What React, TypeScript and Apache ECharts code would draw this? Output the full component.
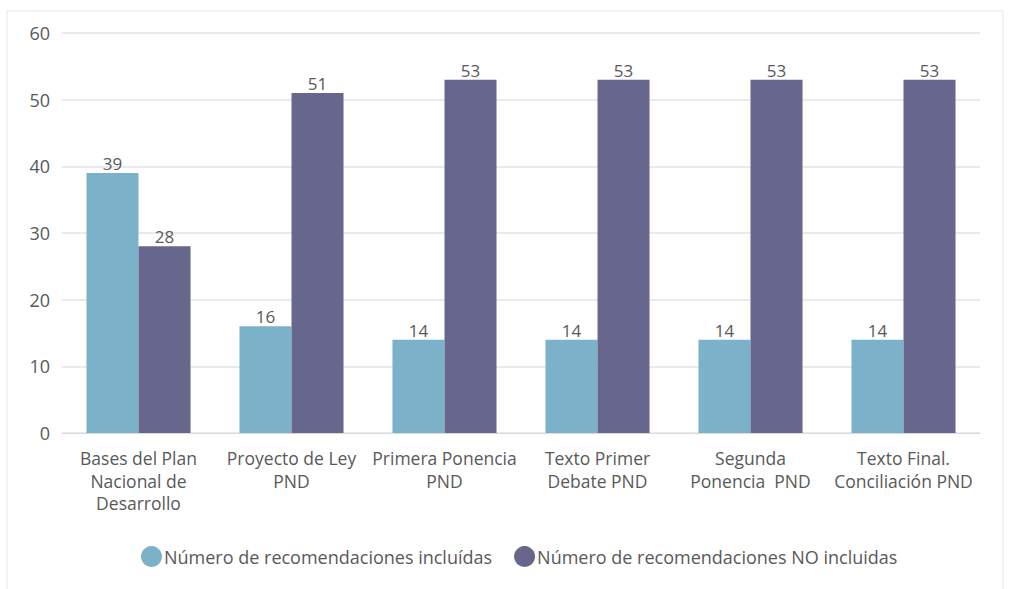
import React, { useEffect, useRef } from "react";
import * as echarts from "echarts";

const categories = [
  "Bases del Plan\nNacional de\nDesarrollo",
  "Proyecto de Ley\nPND",
  "Primera Ponencia\nPND",
  "Texto Primer\nDebate PND",
  "Segunda\nPonencia  PND",
  "Texto Final.\nConciliación PND",
];
const incluidas = [39, 16, 14, 14, 14, 14];
const noIncluidas = [28, 51, 53, 53, 53, 53];
const seriesNames = [
  "Número de recomendaciones incluídas",
  "Número de recomendaciones NO incluidas",
];

export default function App() {
  const ref = useRef<HTMLDivElement>(null);
  useEffect(() => {
    const chart = echarts.init(ref.current!, undefined, { renderer: "svg" });
    const font = "'Open Sans', 'Noto Sans', sans-serif";
    const labelStyle = {
      show: true,
      position: "top" as const,
      color: "#595959",
      fontSize: 17,
      fontFamily: font,
      distance: 1,
    };
    chart.setOption({
      animation: false,
      backgroundColor: "#ffffff",
      graphic: [
        {
          type: "rect",
          shape: { x: 7, y: 11, width: 996, height: 590 },
          style: { fill: "none", stroke: "#e6e6e6", lineWidth: 1 },
          z: -1,
        },
      ],
      grid: { left: 62, right: 34, top: 33, bottom: 156 },
      legend: {
        bottom: 17,
        left: 136,
        icon: "circle",
        itemWidth: 21,
        itemHeight: 21,
        itemGap: 22,
        textStyle: { color: "#595959", fontSize: 18, fontFamily: font, padding: [0, 0, 0, -3] },
        data: seriesNames,
      },
      xAxis: {
        type: "category",
        data: categories,
        axisLine: { show: true, lineStyle: { color: "#d9d9d9", width: 1 } },
        axisTick: { show: false },
        axisLabel: {
          color: "#595959",
          fontSize: 17.5,
          fontFamily: font,
          lineHeight: 22.5,
          margin: 14,
          interval: 0,
        },
      },
      yAxis: {
        type: "value",
        min: 0,
        max: 60,
        interval: 10,
        axisLine: { show: false },
        axisTick: { show: false },
        splitLine: { lineStyle: { color: "#e3e3e3", width: 1.5 } },
        axisLabel: { color: "#595959", fontSize: 18, fontFamily: font, margin: 12 },
      },
      series: [
        {
          name: seriesNames[0],
          type: "bar",
          data: incluidas,
          barWidth: "34%",
          barGap: "0%",
          itemStyle: { color: "#7BB1C9" },
          label: labelStyle,
        },
        {
          name: seriesNames[1],
          type: "bar",
          data: noIncluidas,
          barWidth: "34%",
          itemStyle: { color: "#67668C" },
          label: labelStyle,
        },
      ],
    });
    return () => chart.dispose();
  }, []);
  return (
    <div
      ref={ref}
      style={{ position: "fixed", left: 0, top: 0, width: 1014, height: 589 }}
    />
  );
}
